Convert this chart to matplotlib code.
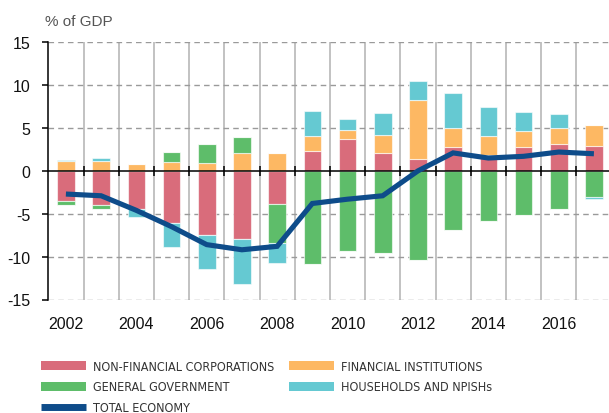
import matplotlib
matplotlib.use('Agg')
import matplotlib.pyplot as plt
from matplotlib.patches import Patch
from matplotlib.lines import Line2D
import numpy as np

years = list(range(2002, 2018))
nfc = [-3.5, -4.0, -4.4, -6.1, -7.5, -7.9, -3.9, 2.3, 3.7, 2.1, 1.4, 2.8, 1.8, 2.8, 3.1, 2.9]
fin = [1.2, 1.1, 0.8, 1.0, 0.9, 2.1, 2.1, 1.8, 1.1, 2.1, 6.9, 2.2, 2.3, 1.9, 1.9, 2.5]
gov = [-0.5, -0.4, 0.0, 1.2, 2.2, 1.9, -4.5, -10.9, -9.3, -9.6, -10.4, -6.9, -5.9, -5.2, -4.4, -3.0]
hh = [0.1, 0.4, -1.0, -2.8, -4.0, -5.3, -2.4, 2.9, 1.3, 2.6, 2.2, 4.1, 3.4, 2.2, 1.6, -0.3]
total = [-2.7, -2.9, -4.6, -6.5, -8.6, -9.2, -8.8, -3.8, -3.3, -2.9, 0.0, 2.1, 1.5, 1.7, 2.2, 2.0]

labels = ["NON-FINANCIAL CORPORATIONS", "FINANCIAL INSTITUTIONS",
          "GENERAL GOVERNMENT", "HOUSEHOLDS AND NPISHs", "TOTAL ECONOMY"]
colors = ["#D96C7B", "#FDB863", "#5EBD6A", "#65C9D2", "#0E4C8A"]
yticks = [15, 10, 5, 0, -5, -10, -15]
xtick_years = list(range(2002, 2017, 2))

plt.rcParams['font.family'] = ['Liberation Sans', 'DejaVu Sans']

fig = plt.figure(figsize=(6.09, 4.14), dpi=100)
ax = fig.add_axes([48.3 / 609, 113.5 / 414, (611.5 - 48.3) / 609, (300.5 - 43.3) / 414])

x = np.array(years, dtype=float)
series = [np.array(s, dtype=float) for s in (nfc, fin, gov, hh)]
pos_base = np.zeros(len(years))
neg_base = np.zeros(len(years))
for s, c in zip(series, colors[:4]):
    p = np.where(s > 0, s, 0)
    n = np.where(s < 0, s, 0)
    ax.bar(x, p, 0.5, bottom=pos_base, color=c, edgecolor=(1, 1, 1, 0.6), linewidth=0.8, zorder=3)
    ax.bar(x, n, 0.5, bottom=neg_base, color=c, edgecolor=(1, 1, 1, 0.6), linewidth=0.8, zorder=3)
    pos_base += p
    neg_base += n

ax.plot(x, total, color=colors[4], linewidth=3.7, zorder=5, solid_capstyle='butt', solid_joinstyle='miter')

bounds = np.array(years[:-1]) + 0.5
for b in bounds:
    ax.axvline(b, color='#bdbdbd', linewidth=1.3, zorder=1)
for yv in yticks:
    if yv != 0:
        ax.axhline(yv, color='#9a9a9a', linewidth=1.0, linestyle=(0, (4, 3)), zorder=1)
ax.axhline(0, color='black', linewidth=1.1, zorder=4)
ax.plot(bounds, np.zeros(len(bounds)), linestyle='none', marker='|', markersize=7,
        markeredgewidth=1.1, color='black', zorder=4)

ax.set_xlim(2001.5, 2017.5)
ax.set_ylim(-15, 15)
ax.set_yticks(yticks)
ax.set_yticklabels([str(v) for v in yticks])
ax.set_xticks(xtick_years)
ax.set_xticklabels([str(v) for v in xtick_years])
ax.tick_params(axis='x', length=0, pad=12, labelsize=11.5, labelcolor='#111111')
ax.tick_params(axis='y', length=4, width=1.1, pad=9, labelsize=11.5, labelcolor='#111111', direction='out')
for sp in ('top', 'right', 'bottom'):
    ax.spines[sp].set_visible(False)
ax.spines['left'].set_color('black')
ax.spines['left'].set_linewidth(1.1)
ax.spines['left'].set_zorder(6)
ax.set_facecolor('none')

fig.text(45 / 609, 1 - 22 / 414, "% of GDP", fontsize=11, color='#555555', ha='left', va='center')

h = [Patch(facecolor=colors[0]), Patch(facecolor=colors[2]),
     Line2D([0], [0], color=colors[4], linewidth=5, solid_capstyle='butt')]
l = [labels[0], labels[2], labels[4]]
h2 = [Patch(facecolor=colors[1]), Patch(facecolor=colors[3])]
l2 = [labels[1], labels[3]]
common = dict(frameon=False, loc='upper left', borderpad=0, borderaxespad=0,
              handlelength=3.6, handleheight=0.72, handletextpad=0.55, labelspacing=0.6,
              prop=dict(family='DejaVu Sans', stretch='condensed', size=9), labelcolor='#333333')
leg1 = fig.legend(h, l, bbox_to_anchor=(41 / 609, 1 - 361 / 414), **common)
leg2 = fig.legend(h2, l2, bbox_to_anchor=(289 / 609, 1 - 361 / 414), **common)

fig.savefig('out.png', dpi=100)
